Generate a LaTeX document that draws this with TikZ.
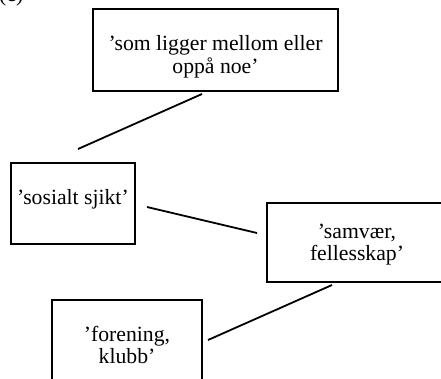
\documentclass[tikz,border=0pt]{standalone}
\usepackage{fontspec}
\setmainfont{Liberation Serif}
\usetikzlibrary{calc}
\begin{document}
\begin{tikzpicture}[x=1pt,y=-1pt,
  boxst/.style={draw=black, line width=1.2pt, rectangle, inner sep=0pt},
  txt/.style={align=center, inner sep=0pt, font=\fontsize{21.7}{22.5}\selectfont},
  link/.style={draw=black, line width=1.8pt}]
\useasboundingbox (0,0) rectangle (441,378);
\node[txt, anchor=base west] (lab) at (-1,1.5) {(c)};
\node[boxst, minimum width=245pt, minimum height=82pt] (A) at (215.5,50) {};
\node[txt] (At) at ($(A.center)+(0,7)$) {'som ligger mellom eller\\oppå noe'};
\node[boxst, minimum width=124pt, minimum height=81pt] (B) at (73,203.5) {};
\node[txt] (Bt) at ($(B.center)+(0,-4)$) {'sosialt sjikt'};
\node[boxst, minimum width=180pt, minimum height=79pt] (C) at (357,242.5) {};
\node[txt] (Ct) at ($(C.center)+(0,2)$) {'samvær,\\fellesskap'};
\node[boxst, minimum width=150pt, minimum height=96pt] (D) at (127,348) {};
\node[txt] (Dt) at ($(D.center)+(0,-3)$) {'forening,\\klubb'};
\coordinate (a1) at (202,94);
\coordinate (b1) at (78,149);
\coordinate (b2) at (147,207);
\coordinate (c2) at (257,233);
\coordinate (c3) at (332,285);
\coordinate (d3) at (208,340);
\draw[link] (a1) -- (b1);
\draw[link] (b2) -- (c2);
\draw[link] (c3) -- (d3);
\end{tikzpicture}
\end{document}
